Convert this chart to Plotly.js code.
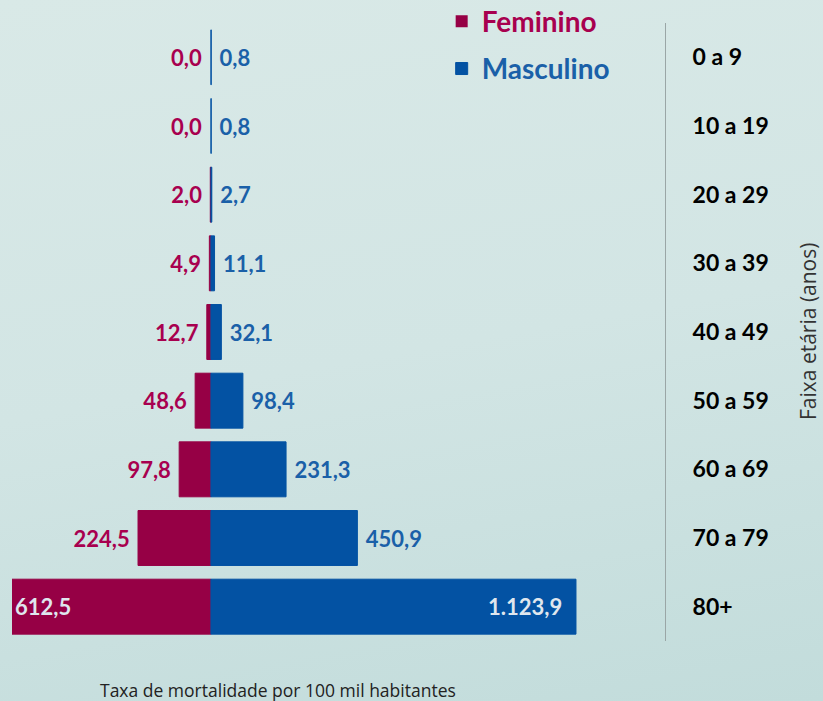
<!DOCTYPE html>
<html>
<head>
<meta charset="utf-8">
<script src="https://cdn.plot.ly/plotly-3.0.1.min.js"></script>
<style>
html,body{margin:0;padding:0;}
body{width:823px;height:701px;background:linear-gradient(170deg,#d9e9e7 0%,#d2e5e4 50%,#c2dcdb 100%);}
#chart{width:823px;height:701px;}
</style>
</head>
<body>
<div id="chart"></div>
<script>
const ageGroups = ["0 a 9","10 a 19","20 a 29","30 a 39","40 a 49","50 a 59","60 a 69","70 a 79","80+"];
const feminino = [0.0, 0.0, 2.0, 4.9, 12.7, 48.6, 97.8, 224.5, 612.5];
const masculino = [0.8, 0.8, 2.7, 11.1, 32.1, 98.4, 231.3, 450.9, 1123.9];

const NB = "\u00a0";
const last = ageGroups.length - 1;
const FONT = "Lato, 'Open Sans', sans-serif";
const FEM_TXT = "#a8004f", MAS_TXT = "#1a60a8", IN_TXT = "#dfe6ee";
const FEM_BAR = "#960045", MAS_BAR = "#0352a3";

const femPos = feminino.map((v,i)=> i === last ? "inside" : (v === 0 ? "none" : "outside"));
const masPos = masculino.map((v,i)=> i === last ? "inside" : "outside");
const femTpl = feminino.map((v,i)=> i === last ? "%{customdata:,.1f}" : "%{customdata:,.1f}"+NB);
const masTpl = masculino.map((v,i)=> i === last ? "%{customdata:,.1f}"+NB+NB : NB+"%{customdata:,.1f}");
const femTextColor = feminino.map((v,i)=> i === last ? IN_TXT : FEM_TXT);
const masTextColor = masculino.map((v,i)=> i === last ? IN_TXT : MAS_TXT);

const traces = [
  {
    type:"bar", orientation:"h", name:"Feminino",
    y: ageGroups, x: feminino.map(v=>-v), customdata: feminino,
    marker:{color:FEM_BAR, line:{color:FEM_BAR, width:feminino.map(v=> v === 0 ? 0 : 1)}},
    textposition: femPos, texttemplate: femTpl, textangle:0,
    textfont:{family:FONT, size:22, color: femTextColor, weight:700},
    insidetextanchor:"end", cliponaxis:false, constraintext:"none",
    hoverinfo:"skip", legendgroup:"f"
  },
  {
    type:"bar", orientation:"h", name:"Masculino",
    y: ageGroups, x: masculino, customdata: masculino,
    marker:{color:MAS_BAR, line:{color:MAS_BAR, width:1}},
    textposition: masPos, texttemplate: masTpl, textangle:0,
    textfont:{family:FONT, size:22, color: masTextColor, weight:700},
    insidetextanchor:"end", cliponaxis:false, constraintext:"none",
    hoverinfo:"skip", legendgroup:"m"
  }
];

// labels for zero-valued female bars (Plotly would place them on the wrong side)
const zeroLabels = [];
feminino.forEach((v,i)=>{
  if (v === 0) {
    zeroLabels.push({
      x: 0, y: ageGroups[i], xref:"x", yref:"y",
      text: v.toFixed(1).replace(".", ","),
      xanchor:"right", yanchor:"middle", xshift:-7, showarrow:false,
      font:{family:FONT, size:22, color:FEM_TXT, weight:700}
    });
  }
});

const layout = {
  width:823, height:701,
  paper_bgcolor:"rgba(0,0,0,0)", plot_bgcolor:"rgba(0,0,0,0)",
  separators:",.",
  barmode:"relative", bargap:0.2,
  margin:{l:12, r:158, t:23, b:60, autoexpand:false},
  showlegend:true,
  legend:{
    x:0.658, y:1.043, xanchor:"left", yanchor:"top",
    bgcolor:"rgba(0,0,0,0)", tracegroupgap:8,
    font:{family:FONT, size:28, weight:700, color:"#333"},
    itemwidth:30
  },
  xaxis:{
    range:[-612.5, 1398], showgrid:false, zeroline:false,
    showticklabels:false, showline:false, fixedrange:true
  },
  yaxis:{
    type:"category", categoryorder:"array", categoryarray:ageGroups,
    range:[8.5,-0.5], side:"right", showgrid:false, zeroline:false,
    showline:true, linecolor:"#9aa6a6", linewidth:1,
    ticks:"", ticklabelstandoff:22,
    tickfont:{family:FONT, size:23, color:"#000", weight:700}
  },
  annotations: zeroLabels.concat([
    {text:"Faixa etária (anos)", textangle:-90, xref:"paper", yref:"paper",
     x:(808-12)/653, y:(641-332)/618, xanchor:"center", yanchor:"middle", showarrow:false,
     font:{family:"'Open Sans', sans-serif", size:21, color:"#333"}},
    {text:"Taxa de mortalidade por 100 mil habitantes", xref:"paper", yref:"paper",
     x:(278-12)/653, y:(641-690)/618, xanchor:"center", yanchor:"middle", showarrow:false,
     font:{family:"'Open Sans', sans-serif", size:17.5, color:"#222"}}
  ])
};

Plotly.newPlot("chart", traces, layout, {displayModeBar:false, staticPlot:true}).then(gd=>{
  const items = gd.querySelectorAll(".legend .traces .legendtext");
  if (items[0]) items[0].style.fill = FEM_TXT;
  if (items[1]) items[1].style.fill = MAS_TXT;
});
</script>
</body>
</html>
